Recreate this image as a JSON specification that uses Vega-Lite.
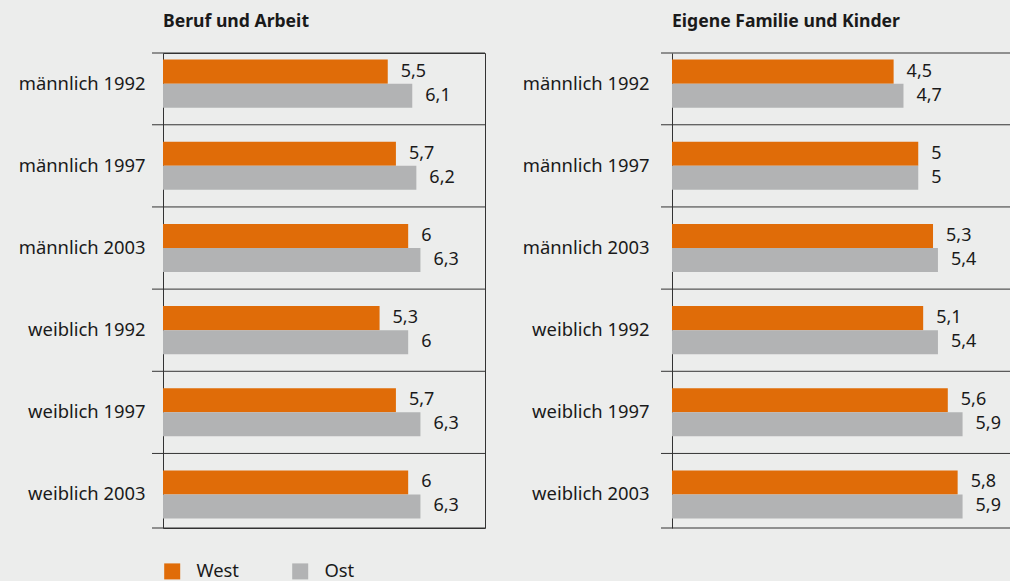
{
  "$schema": "https://vega.github.io/schema/vega-lite/v6.json",
  "background": "#ecedec",
  "padding": {"left": 17, "top": 12, "right": 0, "bottom": 0},
  "config": {
    "locale": {"number": {"decimal": ",", "thousands": ".", "grouping": [3], "currency": ["", " €"]}},
    "font": "Noto Sans",
    "view": {"stroke": "#333333", "strokeWidth": 1},
    "axis": {"labelFont": "Noto Sans", "labelFontSize": 18.4, "labelColor": "#1a1a1a"},
    "title": {"font": "Noto Sans", "fontSize": 17.6, "fontWeight": "bold", "color": "#1a1a1a", "anchor": "start", "frame": "group", "offset": 21.5},
    "text": {"font": "Noto Sans"}
  },
  "datasets": {
    "d": [
      {"thema": "Beruf und Arbeit", "gruppe": "männlich 1992", "region": "West", "wert": 5.5},
      {"thema": "Beruf und Arbeit", "gruppe": "männlich 1992", "region": "Ost", "wert": 6.1},
      {"thema": "Beruf und Arbeit", "gruppe": "männlich 1997", "region": "West", "wert": 5.7},
      {"thema": "Beruf und Arbeit", "gruppe": "männlich 1997", "region": "Ost", "wert": 6.2},
      {"thema": "Beruf und Arbeit", "gruppe": "männlich 2003", "region": "West", "wert": 6},
      {"thema": "Beruf und Arbeit", "gruppe": "männlich 2003", "region": "Ost", "wert": 6.3},
      {"thema": "Beruf und Arbeit", "gruppe": "weiblich 1992", "region": "West", "wert": 5.3},
      {"thema": "Beruf und Arbeit", "gruppe": "weiblich 1992", "region": "Ost", "wert": 6},
      {"thema": "Beruf und Arbeit", "gruppe": "weiblich 1997", "region": "West", "wert": 5.7},
      {"thema": "Beruf und Arbeit", "gruppe": "weiblich 1997", "region": "Ost", "wert": 6.3},
      {"thema": "Beruf und Arbeit", "gruppe": "weiblich 2003", "region": "West", "wert": 6},
      {"thema": "Beruf und Arbeit", "gruppe": "weiblich 2003", "region": "Ost", "wert": 6.3},
      {"thema": "Eigene Familie und Kinder", "gruppe": "männlich 1992", "region": "West", "wert": 4.5},
      {"thema": "Eigene Familie und Kinder", "gruppe": "männlich 1992", "region": "Ost", "wert": 4.7},
      {"thema": "Eigene Familie und Kinder", "gruppe": "männlich 1997", "region": "West", "wert": 5},
      {"thema": "Eigene Familie und Kinder", "gruppe": "männlich 1997", "region": "Ost", "wert": 5},
      {"thema": "Eigene Familie und Kinder", "gruppe": "männlich 2003", "region": "West", "wert": 5.3},
      {"thema": "Eigene Familie und Kinder", "gruppe": "männlich 2003", "region": "Ost", "wert": 5.4},
      {"thema": "Eigene Familie und Kinder", "gruppe": "weiblich 1992", "region": "West", "wert": 5.1},
      {"thema": "Eigene Familie und Kinder", "gruppe": "weiblich 1992", "region": "Ost", "wert": 5.4},
      {"thema": "Eigene Familie und Kinder", "gruppe": "weiblich 1997", "region": "West", "wert": 5.6},
      {"thema": "Eigene Familie und Kinder", "gruppe": "weiblich 1997", "region": "Ost", "wert": 5.9},
      {"thema": "Eigene Familie und Kinder", "gruppe": "weiblich 2003", "region": "West", "wert": 5.8},
      {"thema": "Eigene Familie und Kinder", "gruppe": "weiblich 2003", "region": "Ost", "wert": 5.9}
    ]
  },
  "spacing": 36,
  "resolve": {"legend": {"color": "independent"}},
  "hconcat": [
    {
      "width": 322,
      "height": 475,
      "title": {"text": "Beruf und Arbeit"},
      "data": {"name": "d"},
      "transform": [{"filter": "datum.thema === 'Beruf und Arbeit'"}],
      "encoding": {
        "y": {"field": "gruppe", "type": "nominal", "sort": null,
          "scale": {"domain": ["männlich 1992", "männlich 1997", "männlich 2003", "weiblich 1992", "weiblich 1997", "weiblich 2003"], "paddingInner": 0.4153, "paddingOuter": 0.098, "align": 0.41},
          "axis": {"title": null, "ticks": false, "domain": false, "labelPadding": 18}}
      },
      "layer": [
        {
          "mark": {"type": "bar"},
          "encoding": {
            "x": {"field": "wert", "type": "quantitative", "scale": {"domain": [0, 7.88], "nice": false}, "axis": null},
            "yOffset": {"field": "region", "type": "nominal", "scale": {"domain": ["West", "Ost"], "paddingInner": 0, "paddingOuter": 0}},
            "color": {"field": "region", "type": "nominal", "scale": {"domain": ["West", "Ost"], "range": ["#e06c08", "#b2b3b4"]},
              "legend": {"orient": "none", "legendX": 0, "legendY": 509, "direction": "horizontal", "title": null, "symbolType": "square", "symbolSize": 256, "symbolStrokeWidth": 0, "symbolOpacity": 1, "labelFontSize": 18.4, "labelFont": "Noto Sans", "labelColor": "#1a1a1a", "labelOffset": 15, "columnPadding": 52, "padding": 0}}
          }
        },
        {
          "mark": {"type": "text", "align": "left", "dx": 13, "fontSize": 18, "color": "#1a1a1a"},
          "encoding": {
            "x": {"field": "wert", "type": "quantitative"},
            "yOffset": {"field": "region", "type": "nominal"},
            "text": {"field": "wert", "type": "quantitative", "format": ".1~f"}
          }
        },
        {
          "transform": [{"filter": "datum.region === 'West' && datum.gruppe !== 'männlich 1992'"}],
          "mark": {"type": "rule", "color": "#333333", "strokeWidth": 1, "yOffset": -17},
          "encoding": {
            "y": {"field": "gruppe", "type": "nominal", "bandPosition": 0},
            "x": {"value": -11},
            "x2": {"value": "width"}
          }
        },
        {
          "transform": [{"filter": "datum.region === 'West' && datum.gruppe === 'männlich 1992'"}],
          "mark": {"type": "rule", "color": "#333333", "strokeWidth": 1},
          "encoding": {"y": {"value": 0}, "x": {"value": -11}, "x2": {"value": "width"}}
        },
        {
          "transform": [{"filter": "datum.region === 'West' && datum.gruppe === 'männlich 1992'"}],
          "mark": {"type": "rule", "color": "#333333", "strokeWidth": 1},
          "encoding": {"y": {"value": "height"}, "x": {"value": -11}, "x2": {"value": "width"}}
        }
      ]
    },
    {
      "width": 338,
      "height": 475,
      "view": {"stroke": null},
      "title": {"text": "Eigene Familie und Kinder"},
      "data": {"name": "d"},
      "transform": [{"filter": "datum.thema === 'Eigene Familie und Kinder'"}],
      "encoding": {
        "y": {"field": "gruppe", "type": "nominal", "sort": null,
          "scale": {"domain": ["männlich 1992", "männlich 1997", "männlich 2003", "weiblich 1992", "weiblich 1997", "weiblich 2003"], "paddingInner": 0.4153, "paddingOuter": 0.098, "align": 0.41},
          "axis": {"title": null, "ticks": false, "domain": true, "domainColor": "#333333", "domainWidth": 1, "labelPadding": 23}}
      },
      "layer": [
        {
          "mark": {"type": "bar"},
          "encoding": {
            "x": {"field": "wert", "type": "quantitative", "scale": {"domain": [0, 6.863], "nice": false}, "axis": null},
            "yOffset": {"field": "region", "type": "nominal", "scale": {"domain": ["West", "Ost"], "paddingInner": 0, "paddingOuter": 0}},
            "color": {"field": "region", "type": "nominal", "scale": {"domain": ["West", "Ost"], "range": ["#e06c08", "#b2b3b4"]}, "legend": null}
          }
        },
        {
          "mark": {"type": "text", "align": "left", "dx": 13, "fontSize": 18, "color": "#1a1a1a"},
          "encoding": {
            "x": {"field": "wert", "type": "quantitative"},
            "yOffset": {"field": "region", "type": "nominal"},
            "text": {"field": "wert", "type": "quantitative", "format": ".1~f"}
          }
        },
        {
          "transform": [{"filter": "datum.region === 'West' && datum.gruppe !== 'männlich 1992'"}],
          "mark": {"type": "rule", "color": "#333333", "strokeWidth": 1, "yOffset": -17},
          "encoding": {
            "y": {"field": "gruppe", "type": "nominal", "bandPosition": 0},
            "x": {"value": -11},
            "x2": {"value": "width"}
          }
        },
        {
          "transform": [{"filter": "datum.region === 'West' && datum.gruppe === 'männlich 1992'"}],
          "mark": {"type": "rule", "color": "#333333", "strokeWidth": 1},
          "encoding": {"y": {"value": 0}, "x": {"value": -11}, "x2": {"value": "width"}}
        },
        {
          "transform": [{"filter": "datum.region === 'West' && datum.gruppe === 'männlich 1992'"}],
          "mark": {"type": "rule", "color": "#333333", "strokeWidth": 1},
          "encoding": {"y": {"value": "height"}, "x": {"value": -11}, "x2": {"value": "width"}}
        }
      ]
    }
  ]
}
